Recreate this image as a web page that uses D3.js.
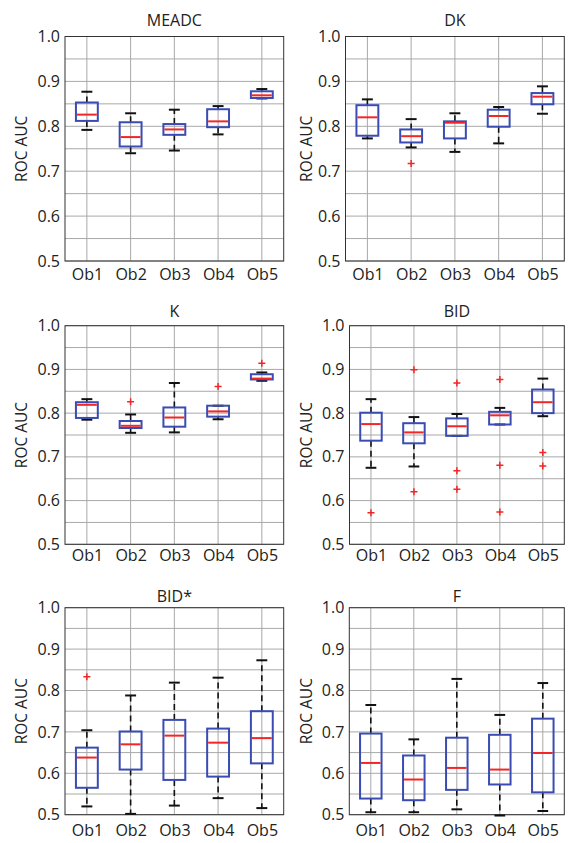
<!DOCTYPE html>
<html>
<head>
<meta charset="utf-8">
<script src="https://cdn.jsdelivr.net/npm/d3@7"></script>
<style>
  body { margin: 0; background: #fff; }
  text { font-family: "Open Sans", "Noto Sans", sans-serif; fill: #222; }
</style>
</head>
<body>
<div class="chart"></div>
<script>
var svgWidth = 571;
var svgHeight = 843;

// categories and axis ticks
var categories = ["Ob1", "Ob2", "Ob3", "Ob4", "Ob5"];
var yTicks = [0.5, 0.6, 0.7, 0.8, 0.9, 1.0];
var yGrid = d3.range(0.5, 1.001, 0.05);

// box stats per category: [lower whisker, q1, median, q3, upper whisker]
var meadc = [
  [0.792, 0.812, 0.826, 0.853, 0.877],
  [0.740, 0.755, 0.776, 0.809, 0.829],
  [0.746, 0.781, 0.793, 0.805, 0.837],
  [0.782, 0.798, 0.811, 0.838, 0.845],
  [0.862, 0.863, 0.869, 0.878, 0.883]
];
var meadcOut = [[], [], [], [], []];

var dk = [
  [0.773, 0.779, 0.820, 0.847, 0.860],
  [0.753, 0.764, 0.778, 0.793, 0.816],
  [0.743, 0.773, 0.808, 0.811, 0.829],
  [0.762, 0.799, 0.823, 0.837, 0.843],
  [0.828, 0.849, 0.866, 0.874, 0.889]
];
var dkOut = [[], [0.717], [], [], []];

var k = [
  [0.785, 0.789, 0.819, 0.825, 0.832],
  [0.755, 0.766, 0.771, 0.782, 0.797],
  [0.756, 0.769, 0.790, 0.813, 0.869],
  [0.786, 0.792, 0.804, 0.817, 0.817],
  [0.874, 0.877, 0.879, 0.889, 0.893]
];
var kOut = [[], [0.826], [], [0.861], [0.914]];

var bid = [
  [0.675, 0.737, 0.775, 0.801, 0.832],
  [0.678, 0.731, 0.756, 0.777, 0.791],
  [0.748, 0.748, 0.770, 0.788, 0.798],
  [0.774, 0.774, 0.795, 0.803, 0.812],
  [0.793, 0.800, 0.825, 0.854, 0.879]
];
var bidOut = [[0.572], [0.899, 0.620], [0.869, 0.668, 0.626], [0.877, 0.681, 0.574], [0.710, 0.679]];

var bidStar = [
  [0.520, 0.565, 0.638, 0.662, 0.704],
  [0.502, 0.609, 0.670, 0.701, 0.788],
  [0.522, 0.584, 0.691, 0.729, 0.819],
  [0.540, 0.592, 0.674, 0.708, 0.831],
  [0.516, 0.624, 0.685, 0.750, 0.873]
];
var bidStarOut = [[0.833], [], [], [], []];

var f = [
  [0.506, 0.539, 0.625, 0.696, 0.765],
  [0.506, 0.535, 0.585, 0.643, 0.682],
  [0.513, 0.560, 0.613, 0.686, 0.828],
  [0.498, 0.573, 0.609, 0.693, 0.741],
  [0.509, 0.554, 0.649, 0.732, 0.818]
];
var fOut = [[], [], [], [], []];

// panel layout
var panels = [
  { title: "MEADC", stats: meadc,   out: meadcOut,   x: 65,    y: 36.5,  w: 218.7, h: 224.5, titleY: 25.5,  labelY: 280 },
  { title: "DK",    stats: dk,      out: dkOut,      x: 345.5, y: 36.5,  w: 218.8, h: 224.5, titleY: 25.5,  labelY: 280 },
  { title: "K",     stats: k,       out: kOut,       x: 65,    y: 325.7, w: 218.7, h: 218.6, titleY: 316.5, labelY: 561 },
  { title: "BID",   stats: bid,     out: bidOut,     x: 349.5, y: 325.7, w: 214.8, h: 218.6, titleY: 316.5, labelY: 561 },
  { title: "BID*",  stats: bidStar, out: bidStarOut, x: 65,    y: 607.7, w: 218.7, h: 207,   titleY: 601.5, labelY: 836 },
  { title: "F",     stats: f,       out: fOut,       x: 349.3, y: 607.7, w: 215,   h: 207,   titleY: 601.5, labelY: 836 }
];

var blue = "#3a4cb4";
var red = "#f22626";

var svg = d3.select(".chart")
  .append("svg")
  .attr("width", svgWidth)
  .attr("height", svgHeight);

panels.forEach(function (p) {
  var g = svg.append("g")
    .attr("transform", `translate(${p.x}, ${p.y})`);

  var x = d3.scaleLinear().domain([0.5, 5.5]).range([0, p.w]);
  var y = d3.scaleLinear().domain([0.5, 1.0]).range([p.h, 0]);
  var boxW = x(1.5) - x(1);
  var capW = boxW / 2;

  // grid
  g.selectAll(".hgrid")
    .data(yGrid)
    .enter()
    .append("line")
    .attr("x1", 0)
    .attr("x2", p.w)
    .attr("y1", d => y(d))
    .attr("y2", d => y(d))
    .attr("stroke", "#a8a8a8")
    .attr("stroke-width", 1);

  g.selectAll(".vgrid")
    .data(categories)
    .enter()
    .append("line")
    .attr("x1", (d, i) => x(i + 1))
    .attr("x2", (d, i) => x(i + 1))
    .attr("y1", 0)
    .attr("y2", p.h)
    .attr("stroke", "#a8a8a8")
    .attr("stroke-width", 1);

  // axes
  var leftAxis = d3.axisLeft(y)
    .tickValues(yTicks)
    .tickFormat(d3.format(".1f"))
    .tickSize(0)
    .tickPadding(5);

  var yAxis = g.append("g").call(leftAxis);
  yAxis.select(".domain").remove();
  yAxis.selectAll("text")
    .style("font-size", "16px")
    .attr("fill", "#222");

  var bottomAxis = d3.axisBottom(x)
    .tickValues([1, 2, 3, 4, 5])
    .tickFormat((d, i) => categories[i])
    .tickSize(0);

  var xAxis = g.append("g")
    .attr("transform", `translate(0, ${p.labelY - p.y})`)
    .call(bottomAxis);
  xAxis.select(".domain").remove();
  xAxis.selectAll("text")
    .attr("y", 0)
    .attr("dy", 0)
    .style("font-size", "16px")
    .attr("fill", "#222");

  // frame
  g.append("rect")
    .attr("width", p.w)
    .attr("height", p.h)
    .attr("fill", "none")
    .attr("stroke", "#333")
    .attr("stroke-width", 1);

  // title
  g.append("text")
    .attr("x", p.w / 2)
    .attr("y", p.titleY - p.y)
    .attr("text-anchor", "middle")
    .style("font-size", "16px")
    .text(p.title);

  // y label
  g.append("text")
    .attr("transform", `translate(${26.5 - p.x + (p.x > 300 ? 285 : 0)}, ${p.h / 2}) rotate(-90)`)
    .attr("text-anchor", "middle")
    .style("font-size", "15.5px")
    .text("ROC AUC");

  // boxes
  var box = g.selectAll(".box")
    .data(p.stats)
    .enter()
    .append("g");

  // dashed whiskers
  box.append("line")
    .attr("x1", (d, i) => x(i + 1))
    .attr("x2", (d, i) => x(i + 1))
    .attr("y1", d => y(d[3]))
    .attr("y2", d => y(d[4]))
    .attr("stroke", "#111")
    .attr("stroke-width", 1.6)
    .attr("stroke-dasharray", "6,4");

  box.append("line")
    .attr("x1", (d, i) => x(i + 1))
    .attr("x2", (d, i) => x(i + 1))
    .attr("y1", d => y(d[1]))
    .attr("y2", d => y(d[0]))
    .attr("stroke", "#111")
    .attr("stroke-width", 1.6)
    .attr("stroke-dasharray", "6,4");

  // caps
  [0, 4].forEach(function (j) {
    box.append("line")
      .attr("x1", (d, i) => x(i + 1) - capW / 2)
      .attr("x2", (d, i) => x(i + 1) + capW / 2)
      .attr("y1", d => y(d[j]))
      .attr("y2", d => y(d[j]))
      .attr("stroke", "#111")
      .attr("stroke-width", 2);
  });

  box.append("rect")
    .attr("x", (d, i) => x(i + 1) - boxW / 2)
    .attr("y", d => y(d[3]))
    .attr("width", boxW)
    .attr("height", d => y(d[1]) - y(d[3]))
    .attr("fill", "none")
    .attr("stroke", blue)
    .attr("stroke-width", 2);

  box.append("line")
    .attr("x1", (d, i) => x(i + 1) - boxW / 2 + 1)
    .attr("x2", (d, i) => x(i + 1) + boxW / 2 - 1)
    .attr("y1", d => y(d[2]))
    .attr("y2", d => y(d[2]))
    .attr("stroke", red)
    .attr("stroke-width", 2);

  // outliers
  var outPts = [];
  p.out.forEach(function (vals, i) {
    vals.forEach(v => outPts.push({ i: i, v: v }));
  });

  g.selectAll(".outlier")
    .data(outPts)
    .enter()
    .append("path")
    .attr("transform", d => `translate(${x(d.i + 1)}, ${y(d.v)})`)
    .attr("d", "M-3.5,0H3.5M0,-3.5V3.5")
    .attr("stroke", red)
    .attr("stroke-width", 1.5);
});
</script>
</body>
</html>
